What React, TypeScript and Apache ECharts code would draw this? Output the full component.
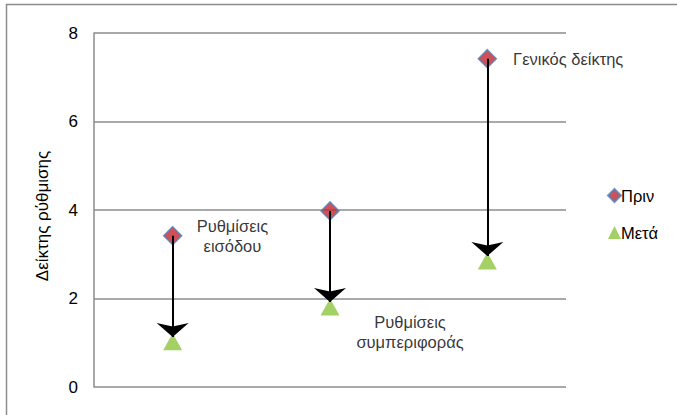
import React, { useEffect, useRef } from "react";
import * as echarts from "echarts";

const categories = ["Ρυθμίσεις\nεισόδου", "Ρυθμίσεις\nσυμπεριφοράς", "Γενικός δείκτης"];
const before = [3.42, 3.98, 7.42];
const after = [1.02, 1.81, 2.85];
const yTicks = [0, 2, 4, 6, 8];
const seriesNames = ["Πριν", "Μετά"];
const yTitle = "Δείκτης ρύθμισης";

const FONT = "'Liberation Sans', Arial, sans-serif";

export default function App() {
  const ref = useRef<HTMLDivElement>(null);
  useEffect(() => {
    const chart = echarts.init(ref.current!, null, { renderer: "svg" });
    const labelPos: any[] = [
      { series: 0, position: "right", offset: [45, 0], align: "center" },
      { series: 1, position: "bottom", offset: [80, -8], align: "center" },
      { series: 0, position: "right", offset: [11, 0], align: "left" },
    ];
    const mkData = (vals: number[], s: number) =>
      vals.map((v, i) => {
        const lp = labelPos[i];
        if (lp.series !== s) return v;
        return {
          value: v,
          label: {
            show: true,
            formatter: categories[i],
            position: lp.position,
            offset: lp.offset,
            color: "#000",
            fontFamily: FONT,
            fontSize: 16.5,
            lineHeight: 20,
            align: lp.align,
          },
        };
      });
    chart.setOption({
      animation: false,
      graphic: [
        {
          type: "rect",
          shape: { x: 6.5, y: 4.5, width: 700, height: 430 },
          style: { fill: "none", stroke: "#8c8c8c", lineWidth: 1.5 },
          silent: true,
        },
      ],
      grid: { left: 94, top: 33, right: 111, bottom: 28 },
      legend: {
        orient: "vertical",
        left: 602,
        top: 182,
        itemGap: 20,
        itemWidth: 13,
        itemHeight: 13,
        textStyle: { fontFamily: FONT, fontSize: 16.5, color: "#000", padding: [0, 0, 0, -5] },
        data: seriesNames,
      },
      xAxis: {
        type: "category",
        data: categories,
        boundaryGap: true,
        axisLine: { show: false },
        axisTick: { show: false },
        axisLabel: { show: false },
      },
      yAxis: {
        type: "value",
        min: yTicks[0],
        max: yTicks[yTicks.length - 1],
        interval: 2,
        name: yTitle,
        nameLocation: "middle",
        nameGap: 43,
        nameTextStyle: { fontFamily: FONT, fontSize: 17, color: "#000", padding: [0, 0, 0, -12] },
        axisLine: { show: true, lineStyle: { color: "#8c8c8c", width: 1.5 } },
        axisTick: { show: false },
        axisLabel: { fontFamily: FONT, fontSize: 17, color: "#000", margin: 16 },
        splitLine: { show: true, lineStyle: { color: "#8c8c8c", width: 1.5 } },
      },
      series: [
        {
          name: seriesNames[0],
          type: "scatter",
          symbol: "diamond",
          symbolSize: 18,
          z: 3,
          itemStyle: { color: "#c1272d", borderColor: "#4f81bd", borderWidth: 1.5 },
          data: mkData(before, 0),
          markLine: {
            silent: true,
            symbol: ["none", "arrow"],
            symbolSize: [24, 14],
            label: { show: false },
            lineStyle: { color: "#000", width: 2, type: "solid" },
            emphasis: { disabled: true },
            data: before.map((b, i) => [
              { coord: [i, b] },
              { coord: [i, after[i] + 0.11] },
            ]),
          },
        },
        {
          name: seriesNames[1],
          type: "scatter",
          symbol: "triangle",
          symbolSize: [19, 17],
          z: 4,
          itemStyle: { color: "#8cc63f" },
          data: mkData(after, 1),
        },
      ],
    });
    return () => chart.dispose();
  }, []);
  return (
    <div
      ref={ref}
      style={{ position: "absolute", left: 0, top: 0, width: 677, height: 415, background: "#fff" }}
    />
  );
}
